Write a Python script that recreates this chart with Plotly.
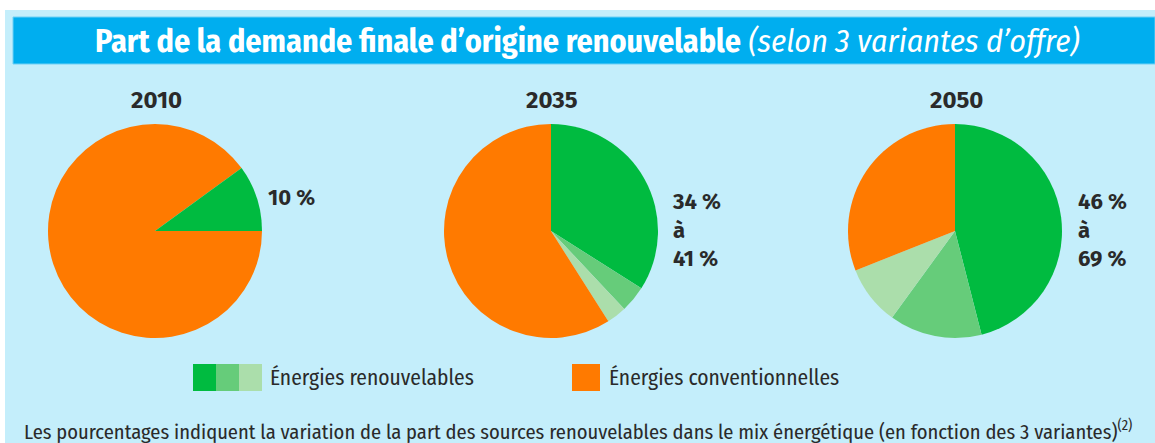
import plotly.graph_objects as go

W, H = 1155, 443

# ---- data ----
years = ["2010", "2035", "2050"]
slice_names = ["Renouvelable (variante 1)", "Renouvelable (variante 2)", "Renouvelable (variante 3)", "Énergies conventionnelles"]
share_2010 = [10, 0, 0, 90]
share_2035 = [34, 4, 3, 59]
share_2050 = [46, 14, 9, 31]
range_labels = ["10 %", "34 %<br>à<br>41 %", "46 %<br>à<br>69 %"]
legend_labels = ["Énergies renouvelables", "Énergies conventionnelles"]

colors = ["#00BB40", "#66CC7A", "#ABDEAB", "#FF7A00"]
panel_blue = "#C4EEFB"
bar_blue = "#00AEEF"
text_dark = "#2A2A2A"
cond = "Fira Sans Condensed, Roboto Condensed, sans-serif"
bold_font = "Fira Sans, Lato, sans-serif"

def px(x):
    return x / W

def py(y):
    return 1 - y / H

# pie geometry (pixels): centres and radius
centres = [(155, 231), (551, 231), (955, 231)]
R = 107

fig = go.Figure()
all_shares = [share_2010, share_2035, share_2050]
for i, (vals, (cx, cy)) in enumerate(zip(all_shares, centres)):
    keep = [k for k, v in enumerate(vals) if v > 0]
    labs = [slice_names[k] for k in keep]
    cols = [colors[k] for k in keep]
    v = [vals[k] for k in keep]
    rotation = 0
    if i == 0:
        # 2010: renewable wedge sits just above 3 o'clock
        labs, cols, v = labs[::-1], cols[::-1], v[::-1]
        rotation = 90
    fig.add_trace(go.Pie(
        labels=labs, values=v, sort=False,
        direction="clockwise", rotation=rotation,
        marker=dict(colors=cols, line=dict(width=0)),
        textinfo="none", hoverinfo="label+percent", showlegend=False,
        domain=dict(x=[px(cx - R), px(cx + R)], y=[py(cy + R), py(cy - R)]),
    ))

shapes = [
    dict(type="rect", xref="paper", yref="paper", x0=px(5), x1=1, y0=0, y1=py(10),
         fillcolor=panel_blue, line=dict(width=0), layer="below"),
    dict(type="rect", xref="paper", yref="paper", x0=px(13), x1=1, y0=py(64), y1=py(17),
         fillcolor=bar_blue, line=dict(width=1, color="#6FD0F5"), layer="below"),
]
# legend swatches
sw_x = [193, 216, 239]
for k, x0 in enumerate(sw_x):
    shapes.append(dict(type="rect", xref="paper", yref="paper", x0=px(x0), x1=px(x0 + 23),
                       y0=py(391), y1=py(364), fillcolor=colors[k], line=dict(width=0)))
shapes.append(dict(type="rect", xref="paper", yref="paper", x0=px(572), x1=px(600),
                   y0=py(391), y1=py(364), fillcolor=colors[3], line=dict(width=0)))

annotations = [
    dict(text="<b>Part de la demande finale d’origine renouvelable</b><i> (selon 3 variantes d’offre)</i>",
         x=px(588), y=py(41), xref="paper", yref="paper", showarrow=False,
         xanchor="center", yanchor="middle", font=dict(family=cond, size=32, color="white")),
    dict(text=legend_labels[0], x=px(268), y=py(378), xref="paper", yref="paper", showarrow=False,
         xanchor="left", yanchor="middle", font=dict(family=cond, size=21.5, color=text_dark)),
    dict(text=legend_labels[1], x=px(607), y=py(378), xref="paper", yref="paper", showarrow=False,
         xanchor="left", yanchor="middle", font=dict(family=cond, size=21.5, color=text_dark)),
    dict(text="Les pourcentages indiquent la variation de la part des sources renouvelables dans le mix énergétique (en fonction des 3 variantes)<sup>(2)</sup>",
         x=px(22), y=py(430), xref="paper", yref="paper", showarrow=False,
         xanchor="left", yanchor="middle", font=dict(family=cond, size=20.5, color=text_dark)),
]
for yr, (cx, cy) in zip(years, centres):
    annotations.append(dict(text=f"<b>{yr}</b>", x=px(cx + 1), y=py(100), xref="paper", yref="paper",
                            showarrow=False, xanchor="center", yanchor="middle",
                            font=dict(family=bold_font, size=24, color=text_dark)))
label_x = [266, 670, 1076]
for lab, lx, (cx, cy) in zip(range_labels, label_x, centres):
    annotations.append(dict(text=f"<b>{lab}</b>", x=px(lx), y=py(197 if "à" not in lab else 230),
                            xref="paper", yref="paper", showarrow=False, xanchor="left", yanchor="middle",
                            align="left", font=dict(family=bold_font, size=22, color=text_dark)))

fig.update_layout(
    width=W, height=H, margin=dict(l=0, r=0, t=0, b=0),
    paper_bgcolor="white", plot_bgcolor="white",
    shapes=shapes, annotations=annotations,
)
fig.write_html("out.html", config={"displayModeBar": False},
               post_script="document.body.style.margin='0';")
